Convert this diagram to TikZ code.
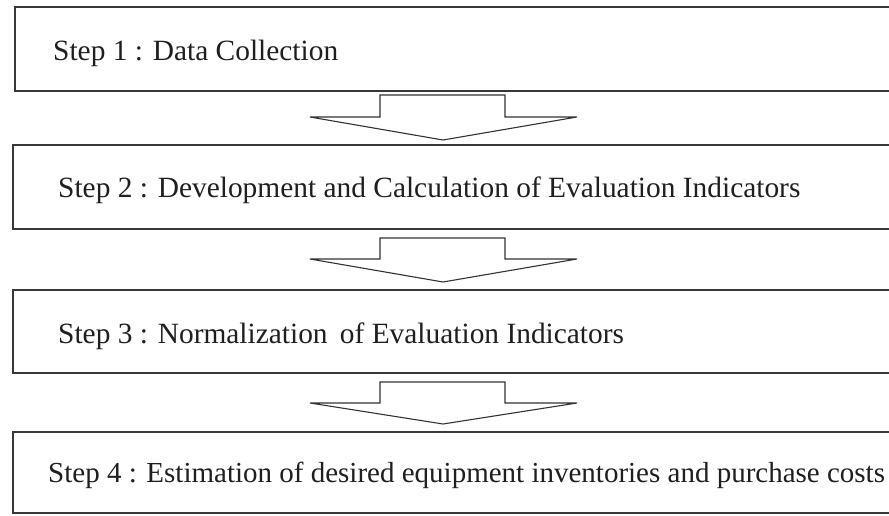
\documentclass[tikz,border=0pt]{standalone}
\usepackage{fontspec}
\setmainfont{Liberation Serif}
\newcommand{\flowarrow}[3]{%
  \draw[blockarrow] (380,#1) -- (505,#1) -- (505,#2) -- (577,#2) -- (443,#3)
    -- (310,#2) -- (380,#2) -- cycle;}
\begin{document}
\begin{tikzpicture}[x=1pt,y=-1pt,
  box/.style={draw=black!78, line width=1.7pt, inner sep=0pt, outer sep=0pt, anchor=north west, fill=white},
  steptext/.style={anchor=base west, inner sep=0pt, font=\fontsize{29.4}{34}\selectfont, text=black!88},
  blockarrow/.style={draw=black!80, line width=1.1pt, fill=white, line join=miter}]
\useasboundingbox (0,0) rectangle (889,515);
\clip (0,0) rectangle (889,515);
\fill[white] (0,0) rectangle (889,515);
\node[box, minimum width=900pt, minimum height=84pt] (b1) at (15,7) {};
\node[box, minimum width=900pt, minimum height=84pt] (b2) at (13,145) {};
\node[box, minimum width=900pt, minimum height=83pt] (b3) at (13,290) {};
\node[box, minimum width=900pt, minimum height=81pt] (b4) at (13,432) {};
\node[steptext] (t1) at (53,60) {Step 1 : Data Collection};
\node[steptext] (t2) at (58,197) {Step 2 : Development and Calculation of Evaluation Indicators};
\node[steptext] (t3) at (58,343) {Step 3 : Normalization\, of Evaluation Indicators};
\node[steptext, font=\fontsize{29}{34}\selectfont] (t4) at (48,482) {Step 4 : Estimation of desired equipment inventories and purchase costs};
\flowarrow{95}{117}{140}
\flowarrow{238}{259}{282}
\flowarrow{382}{403}{424}
\end{tikzpicture}
\end{document}
